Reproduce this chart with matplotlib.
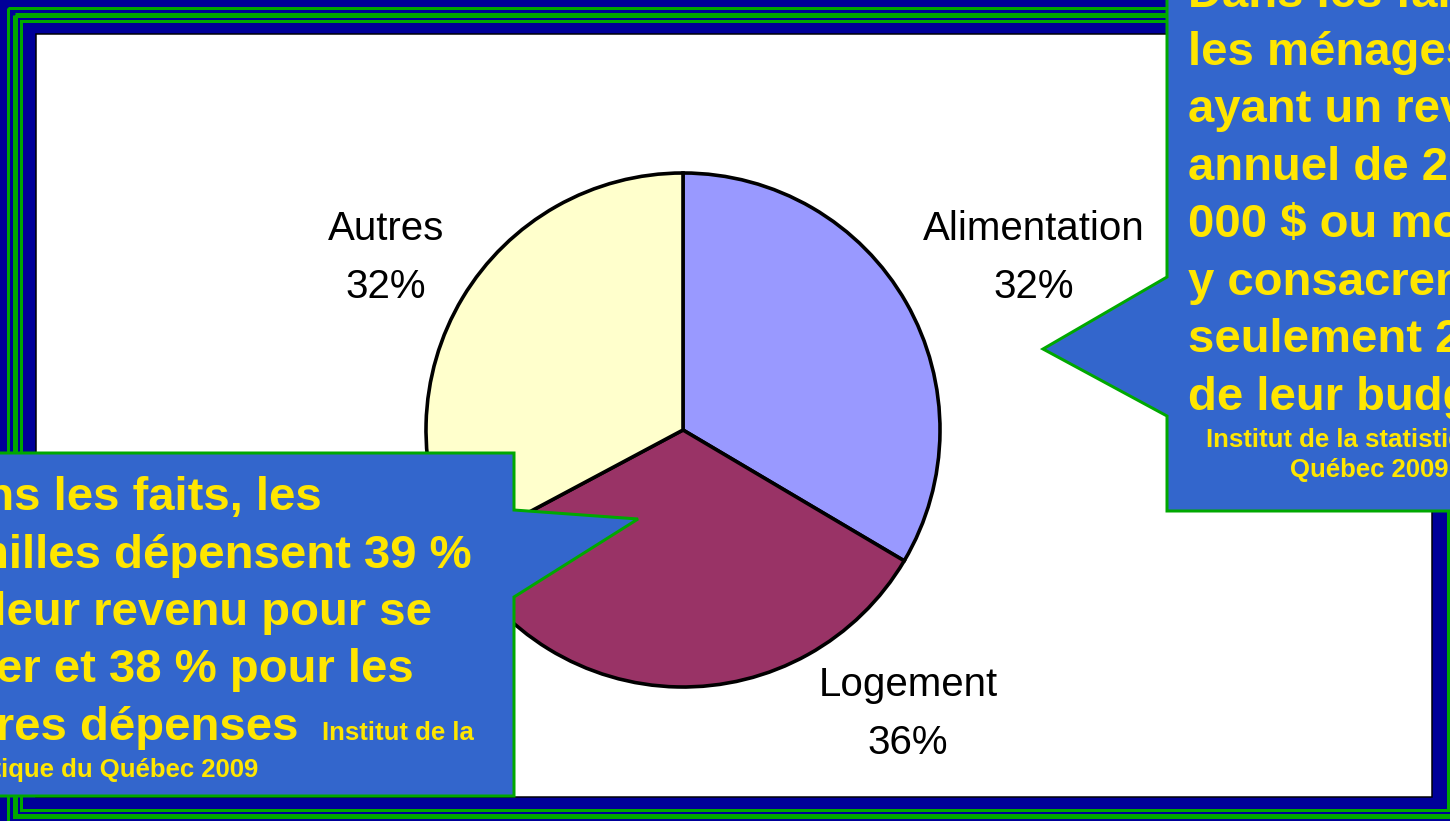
"""
Budget pie (Alimentation / Logement / Autres) on a framed slide, with two
clipped callouts from the Institut de la statistique du Québec 2009.
    python plot.py
"""
import matplotlib
matplotlib.use("Agg")
import matplotlib.pyplot as plt
from matplotlib.patches import Rectangle, Polygon

W, H = 1450, 821

# pie data (wedge shares as drawn, labels as printed on the slide)
categories = ["Alimentation", "Logement", "Autres"]
shares = [33.5, 33.7, 32.8]
pct_labels = ["32%", "36%", "32%"]
colors = ["#9999FF", "#993366", "#FFFFCC"]

# callout texts
right_lines = ["Dans les faits,", "les ménages", "ayant un revenu", "annuel de 20",
               "000 $ ou moins", "y consacrent", "seulement 20 %", "de leur budget"]
right_src = ["Institut de la statistique du", "Québec 2009"]
left_lines = ["Dans les faits, les", "familles dépensent 39 %", "de leur revenu pour se",
              "loger et 38 % pour les", "autres dépenses"]
left_src = ["Institut de la", "statistique du Québec 2009"]

BLUE_BG = "#000099"
GREEN = "#00A800"
BOX = "#3366CC"
YEL = "#FFE600"
FONT = "Liberation Sans"
PX = 0.72  # points per pixel at dpi 100

fig = plt.figure(figsize=(W / 100, H / 100), dpi=100, facecolor=BLUE_BG)

# background frame in pixel coords
bg = fig.add_axes([0, 0, 1, 1], zorder=0)
bg.set_xlim(0, W); bg.set_ylim(H, 0); bg.axis("off")
for x0, y0, x1, y1, lw in [(8.5, 8.5, 1480, 840, 3), (15, 15, 1470, 816.5, 5),
                           (21.5, 21.5, 1448.5, 810.5, 3)]:
    bg.add_patch(Rectangle((x0, y0), x1 - x0, y1 - y0, fill=False,
                           ec=GREEN, lw=lw * PX, joinstyle="miter"))
bg.add_patch(Rectangle((36, 34), 1396, 763, fc="white", ec="black", lw=1.5 * PX))

# pie, centre (683, 430), radius 257 px
cx, cy, r = 683, 430, 257
pax = fig.add_axes([(cx - r) / W, (H - cy - r) / H, 2 * r / W, 2 * r / H], zorder=1)
pax.pie(shares, colors=colors, startangle=90, counterclock=False, radius=1,
        wedgeprops=dict(edgecolor="black", linewidth=3.6 * PX))
pax.set_xlim(-1, 1); pax.set_ylim(-1, 1); pax.axis("off")

# overlay for labels and callouts
ov = fig.add_axes([0, 0, 1, 1], zorder=2)
ov.set_xlim(0, W); ov.set_ylim(H, 0); ov.axis("off"); ov.patch.set_alpha(0)

label_pos = {"Alimentation": (1034, 240), "Logement": (908, 696), "Autres": (386, 240)}
for name, pct in zip(categories, pct_labels):
    x, y = label_pos[name]
    ov.text(x, y, name, ha="center", va="baseline", fontsize=29, family=FONT)
    ov.text(x, y + 58, pct, ha="center", va="baseline", fontsize=29, family=FONT)

# right callout (cut by the slide edge, as in the original)
ov.add_patch(Polygon([(1167, -10), (1167, 277), (1043, 349), (1167, 416), (1167, 511),
                      (1480, 511), (1480, -10)], closed=True, fc=BOX, ec=GREEN,
                     lw=3 * PX, joinstyle="miter", clip_on=False))
for i, line in enumerate(right_lines):
    ov.text(1188, 7.5 + 57.5 * i, line, ha="left", va="baseline", fontsize=34,
            fontweight="bold", color=YEL, family=FONT, clip_on=False)
for i, line in enumerate(right_src):
    ov.text(1369, 447 + 30 * i, line, ha="center", va="baseline", fontsize=18.5,
            fontweight="bold", color=YEL, family=FONT, clip_on=False)

# left callout (cut by the slide edge too)
ov.add_patch(Polygon([(-10, 453), (514, 453), (514, 510), (638, 519), (514, 597),
                      (514, 796), (-10, 796)], closed=True, fc=BOX, ec=GREEN,
                     lw=3 * PX, joinstyle="miter", clip_on=False))
for i, line in enumerate(left_lines):
    ov.text(-75, 510 + 57.5 * i, line, ha="left", va="baseline", fontsize=34,
            fontweight="bold", color=YEL, family=FONT, clip_on=False)
# source continues on the last big line
ov.text(322, 740, left_src[0], ha="left", va="baseline", fontsize=18.5,
        fontweight="bold", color=YEL, family=FONT)
ov.text(-75, 777, left_src[1], ha="left", va="baseline", fontsize=18.5,
        fontweight="bold", color=YEL, family=FONT, clip_on=False)

fig.savefig("out.png", dpi=100, facecolor=BLUE_BG)
